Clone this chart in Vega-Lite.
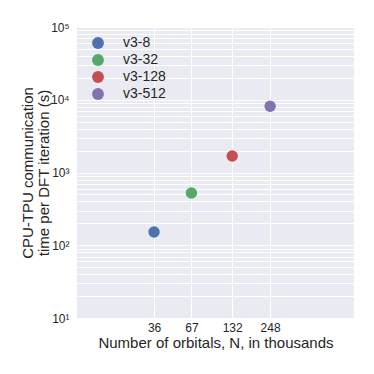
{
  "$schema": "https://vega.github.io/schema/vega-lite/v6.json",
  "autosize": "none",
  "width": 277,
  "height": 291,
  "padding": {"left": 77, "top": 27, "right": 20, "bottom": 56},
  "background": "white",
  "config": {
    "font": "Liberation Sans",
    "view": {"fill": "#EAEAF2", "stroke": null}
  },
  "data": {
    "values": [
      {"N": 36, "time": 152, "tpu": "v3-8"},
      {"N": 67, "time": 523, "tpu": "v3-32"},
      {"N": 132, "time": 1686, "tpu": "v3-128"},
      {"N": 248, "time": 8130, "tpu": "v3-512"}
    ]
  },
  "mark": {"type": "point", "filled": true, "opacity": 1, "size": 130},
  "encoding": {
    "x": {
      "field": "N",
      "type": "quantitative",
      "scale": {"type": "log", "domain": [10, 1000], "nice": false},
      "axis": {
        "values": [36, 67, 132, 248],
        "title": "Number of orbitals, N, in thousands",
        "titleFontSize": 15,
        "titleFontWeight": "normal",
        "titleColor": "#262626",
        "titlePadding": 2,
        "labelFontSize": 12,
        "labelColor": "#262626",
        "labelPadding": 4,
        "ticks": false,
        "domain": false,
        "grid": true,
        "gridColor": "white",
        "gridWidth": 1
      }
    },
    "y": {
      "field": "time",
      "type": "quantitative",
      "scale": {"type": "log", "domain": [10, 100000], "nice": false},
      "axis": {
        "values": [10, 20, 30, 40, 50, 60, 70, 80, 90, 100, 200, 300, 400, 500, 600, 700, 800, 900, 1000, 2000, 3000, 4000, 5000, 6000, 7000, 8000, 9000, 10000, 20000, 30000, 40000, 50000, 60000, 70000, 80000, 90000, 100000],
        "labelExpr": "datum.value == 10 ? '10¹' : datum.value == 100 ? '10²' : datum.value == 1000 ? '10³' : datum.value == 10000 ? '10⁴' : datum.value == 100000 ? '10⁵' : ''",
        "title": ["CPU-TPU communication", "time per DFT iteration (s)"],
        "titleFontSize": 15,
        "titleFontWeight": "normal",
        "titleColor": "#262626",
        "titleLineHeight": 16,
        "titlePadding": -1,
        "labelFontSize": 12,
        "labelColor": "#262626",
        "labelPadding": 8,
        "labelOverlap": false,
        "ticks": false,
        "domain": false,
        "grid": true,
        "gridColor": "white",
        "gridWidth": 1
      }
    },
    "color": {
      "field": "tpu",
      "type": "nominal",
      "scale": {
        "domain": ["v3-8", "v3-32", "v3-128", "v3-512"],
        "range": ["#4C72B0", "#55A868", "#C44E52", "#8172B2"]
      },
      "legend": {
        "title": null,
        "orient": "none",
        "legendX": 14,
        "legendY": 9,
        "padding": 0,
        "symbolType": "circle",
        "symbolSize": 140,
        "symbolStrokeWidth": 0,
        "symbolOpacity": 1,
        "labelFontSize": 14,
        "labelColor": "#262626",
        "labelOffset": 18,
        "rowPadding": 3
      }
    }
  }
}
